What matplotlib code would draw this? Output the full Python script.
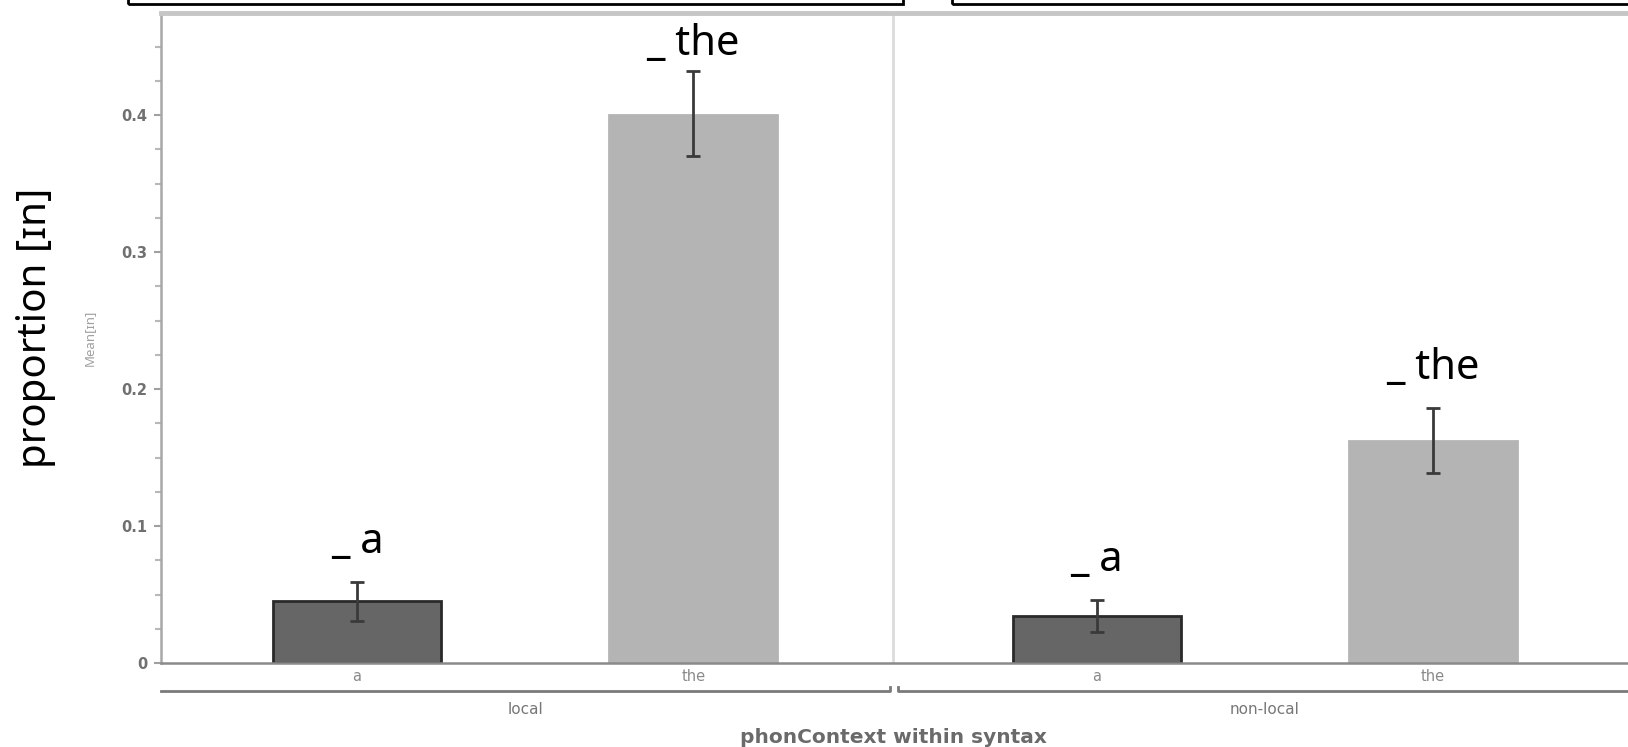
"""Bar chart: proportion of [ɪn] by phonological context within syntax."""

import matplotlib

matplotlib.use("Agg")
import matplotlib.pyplot as plt
import matplotlib.transforms as mtransforms
from matplotlib.patches import Rectangle

# data
groups = ["local", "non-local"]
words = ["a", "the", "a", "the"]
means = [0.045, 0.400, 0.034, 0.162]
err_lo = [0.031, 0.370, 0.023, 0.139]
err_hi = [0.059, 0.432, 0.046, 0.186]
labels = ["_ a", "_ the", "_ a", "_ the"]

xpos = [0.0, 1.0, 2.2, 3.2]
colors = ["#666666", "#b4b4b4", "#666666", "#b4b4b4"]
edges = ["#2a2a2a", "#b4b4b4", "#2a2a2a", "#b4b4b4"]
divider = 1.595
xlim = (-0.583, 3.78)
ylim = (0.0, 0.4745)

big_font = ["Noto Sans", "DejaVu Sans"]

fig = plt.figure(figsize=(16.28, 7.47), dpi=100)
ax = fig.add_axes([0.0989, 0.1124, 0.9011, 0.8702])

yerr = [[m - lo for m, lo in zip(means, err_lo)], [hi - m for m, hi in zip(means, err_hi)]]
ax.bar(xpos, means, width=0.5, color=colors, edgecolor=edges, linewidth=2, zorder=2)
ax.errorbar(xpos, means, yerr=yerr, fmt="none", ecolor="#3a3a3a", elinewidth=2,
            capsize=5, capthick=2, zorder=3)

for x, hi, lab in zip(xpos, err_hi, labels):
    y = min(hi + 0.021, 0.444)
    ax.text(x, y, lab, ha="center", va="baseline", fontsize=30, family=big_font, color="black")

ax.set_xlim(*xlim)
ax.set_ylim(*ylim)
ax.axvline(divider, color="#dcdcdc", lw=2, zorder=1)

# axis styling
ax.spines["right"].set_visible(False)
ax.spines["top"].set_color("#c6c6c6")
ax.spines["top"].set_linewidth(3.5)
ax.spines["left"].set_color("#a8a8a8")
ax.spines["left"].set_linewidth(1.8)
ax.spines["bottom"].set_color("#8a8a8a")
ax.spines["bottom"].set_linewidth(1.8)

ax.set_yticks([0, 0.1, 0.2, 0.3, 0.4], ["0", "0.1", "0.2", "0.3", "0.4"])
ax.set_yticks([i * 0.025 for i in range(19)], minor=True)
ax.tick_params(axis="y", which="major", length=5, width=1.5, color="#a0a0a0",
               labelsize=10.5, labelcolor="#707070", pad=5)
ax.tick_params(axis="y", which="minor", length=4, width=1.5, color="#b8b8b8")
for t in ax.get_yticklabels():
    t.set_fontweight("bold")

ax.set_xticks(xpos, words)
ax.tick_params(axis="x", length=0, labelsize=10.5, labelcolor="#8a8a8a", pad=4)

ax.set_ylabel("Mean[ɪn]", fontsize=9.5, color="#a0a0a0", labelpad=18, family=big_font,
              fontweight="bold")

# group brackets under the x axis
trans = mtransforms.blended_transform_factory(ax.transData, ax.transAxes)
ax.plot([xlim[0], 1.585, 1.585], [-0.043, -0.043, -0.037], color="#7a7a7a", lw=2,
        transform=trans, clip_on=False)
ax.plot([1.61, 1.61, xlim[1]], [-0.037, -0.043, -0.043], color="#7a7a7a", lw=2,
        transform=trans, clip_on=False)
ax.text(0.5, -0.071, groups[0], transform=trans, ha="center", va="center",
        fontsize=11, color="#777777")
ax.text(2.7, -0.071, groups[1], transform=trans, ha="center", va="center",
        fontsize=11, color="#777777")
ax.text(divider, -0.114, "phonContext within syntax", transform=trans, ha="center",
        va="center", fontsize=14.5, color="#6a6a6a", fontweight="bold")

# big overlay y label
fig.text(36 / 1628, 1 - 328 / 747, "proportion [ɪn]", rotation=90, ha="center",
         va="center", fontsize=29, family=big_font)

# frames cut off at the top edge
for x0, x1 in [(128, 903), (952, 1640)]:
    fig.patches.append(Rectangle((x0 / 1628, 1 - 4 / 747), (x1 - x0) / 1628, 0.05,
                                 transform=fig.transFigure, fill=False,
                                 edgecolor="black", lw=2))

fig.savefig("out.png", dpi=100)
